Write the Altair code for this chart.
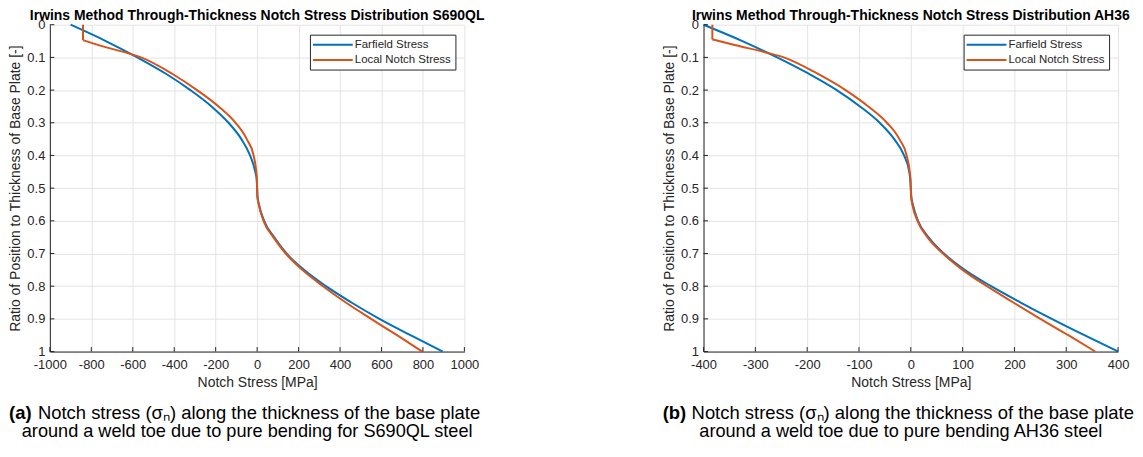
import altair as alt
import pandas as pd

FONT = "Liberation Sans"
SERIES = ["Farfield Stress", "\u00a0Local Notch Stress"]
COLORS = ["#0072BD", "#D95319"]

Y_TICKS = [0, 0.1, 0.2, 0.3, 0.4, 0.5, 0.6, 0.7, 0.8, 0.9, 1]
X_TICKS_A = [-1000, -800, -600, -400, -200, 0, 200, 400, 600, 800, 1000]
X_TICKS_B = [-400, -300, -200, -100, 0, 100, 200, 300, 400]

# ratio of position to thickness (shared by the farfield curves)
far_ratio = [0, 0.05, 0.1, 0.15, 0.2, 0.25, 0.3, 0.35, 0.4, 0.45, 0.475, 0.5,
             0.525, 0.55, 0.6, 0.65, 0.7, 0.75, 0.8, 0.85, 0.9, 0.95, 1.0]

# S690QL
a_far = [-900, -730, -578, -440, -322, -220, -138, -76, -34, -9, -2, 0,
         2, 9, 34, 82, 142, 226, 332, 455, 590, 740, 895]
a_loc_ratio = [0, 0.047, 0.047, 0.064, 0.089, 0.1, 0.15, 0.2, 0.25, 0.3, 0.35, 0.4,
               0.45, 0.475, 0.5, 0.525, 0.55, 0.6, 0.65, 0.7, 0.75, 0.8, 0.85, 0.9, 0.95, 1.0]
a_loc = [-840, -840, -840, -757, -614, -560, -410, -290, -186, -104, -50, -17,
         -4, -1, 0, 1, 8, 31, 78, 138, 218, 318, 428, 550, 675, 797]
a_loc_part = [0, 0] + [1] * 24

# AH36
b_far = [-400, -325, -258, -197, -143, -98, -60, -32, -13, -3, -1, 0,
         1, 4, 14, 34, 64, 104, 155, 212, 272, 335, 400]
b_loc_ratio = [0, 0.045, 0.045, 0.062, 0.087, 0.1, 0.15, 0.2, 0.25, 0.3, 0.35, 0.4,
               0.45, 0.475, 0.5, 0.525, 0.55, 0.6, 0.65, 0.7, 0.75, 0.8, 0.85, 0.9, 0.95, 1.0]
b_loc = [-383, -383, -383, -340, -274, -245, -180, -126, -82, -46, -22, -8,
         -2, -0.5, 0, 0.5, 3, 13, 32, 62, 100, 147, 198, 250, 304, 356]
b_loc_part = [0, 0] + [1] * 24

TITLE_A = "Irwins Method Through-Thickness Notch Stress Distribution S690QL"
TITLE_B = "Irwins Method Through-Thickness Notch Stress Distribution AH36"
CAP_A = ["(a)", "Notch stress (σₙ) along the thickness of the base plate",
         "around a weld toe due to pure bending for S690QL steel"]
CAP_B = ["(b)", "Notch stress (σₙ) along the thickness of the base plate",
         "around a weld toe due to pure bending AH36 steel"]

W, H = 416, 328


def panel(xdom, xticks, far, loc_ratio, loc, loc_part, title, cap):
    rows = []
    for i, (r, s) in enumerate(zip(far_ratio, far)):
        rows.append({"ratio": r, "stress": s, "series": SERIES[0], "part": 0, "idx": i})
    for i, (r, s, p) in enumerate(zip(loc_ratio, loc, loc_part)):
        rows.append({"ratio": r, "stress": s, "series": SERIES[1], "part": p, "idx": i})
    df = pd.DataFrame(rows)

    xscale = alt.Scale(domain=xdom, nice=False, zero=False)
    yscale = alt.Scale(domain=[0, 1], reverse=True, nice=False)
    xaxis = alt.Axis(values=xticks, title="Notch Stress [MPa]",
                     labelOverlap=False, labelFlush=False,
                     labelExpr="'' + datum.value")
    yaxis = alt.Axis(values=Y_TICKS,
                     title="Ratio of Position to Thickness of Base Plate [-]",
                     labelOverlap=False, labelFlush=False,
                     labelExpr="'' + datum.value")

    lines = alt.Chart(df).mark_line(interpolate="monotone", strokeWidth=2).encode(
        x=alt.X("stress:Q", scale=xscale, axis=xaxis),
        y=alt.Y("ratio:Q", scale=yscale, axis=yaxis),
        color=alt.Color("series:N",
                        scale=alt.Scale(domain=SERIES, range=COLORS),
                        legend=alt.Legend(title=None, orient="none", legendX=261, legendY=10,
                                          symbolType="M-4,0H4", symbolSize=100,
                                          symbolStrokeWidth=2, labelFont=FONT,
                                          labelFontSize=11.5, labelColor="#262626",
                                          padding=4, strokeColor="#262626",
                                          fillColor="white", rowPadding=3.5,
                                          labelOffset=16, symbolOffset=13,
                                          labelLimit=0)),
        detail="part:N",
        order="idx:Q",
    )

    xt = alt.Chart(pd.DataFrame({"stress": xticks})).mark_rule(
        color="#262626", strokeWidth=1).encode(
        x=alt.X("stress:Q", scale=xscale, axis=xaxis),
        y=alt.value(H), y2=alt.value(H - 4.5))
    yt = alt.Chart(pd.DataFrame({"ratio": Y_TICKS})).mark_rule(
        color="#262626", strokeWidth=1).encode(
        y=alt.Y("ratio:Q", scale=yscale, axis=yaxis),
        x=alt.value(0), x2=alt.value(4.5))

    one = pd.DataFrame({"k": [0]})
    x0 = -41
    c1 = alt.Chart(one).mark_text(text=cap[0], fontWeight="bold", fontSize=18.5, font=FONT,
                                  align="left", baseline="middle", color="black").encode(
        x=alt.value(x0), y=alt.value(390))
    c2 = alt.Chart(one).mark_text(text=cap[1], fontSize=18.5, font=FONT,
                                  align="left", baseline="middle", color="black").encode(
        x=alt.value(x0 + 29), y=alt.value(390))
    c3 = alt.Chart(one).mark_text(text=cap[2], fontSize=18.2, font=FONT,
                                  align="center", baseline="middle", color="black").encode(
        x=alt.value(198), y=alt.value(409))

    return alt.layer(lines, xt, yt, c1, c2, c3).properties(
        width=W, height=H,
        title=alt.TitleParams(text=title, fontSize=14, fontWeight="bold", font=FONT,
                              anchor="middle", offset=-4, color="black"))


left = panel([-1000, 1000], X_TICKS_A, a_far, a_loc_ratio, a_loc, a_loc_part, TITLE_A, CAP_A)
right = panel([-400, 400], X_TICKS_B, b_far, b_loc_ratio, b_loc, b_loc_part, TITLE_B, CAP_B)

chart = alt.hconcat(left, right, spacing=177).resolve_scale(
    color="independent", x="independent", y="independent"
).resolve_legend(color="independent").properties(padding=0).configure_axis(
    domainColor="#262626", domainWidth=1, ticks=False, tickSize=0,
    gridColor="#e3e3e3", gridWidth=1, labelOverlap=False, labelFlush=False,
    labelFont=FONT, labelFontSize=13, labelColor="#262626",
    titleFont=FONT, titleFontSize=14, titleFontWeight="normal", titleColor="#262626",
).configure_axisX(labelPadding=7, titlePadding=4).configure_axisY(
    labelPadding=5, titlePadding=4).configure_view(stroke=None)

chart.save("out.html", embed_options={"renderer": "svg", "actions": False})
